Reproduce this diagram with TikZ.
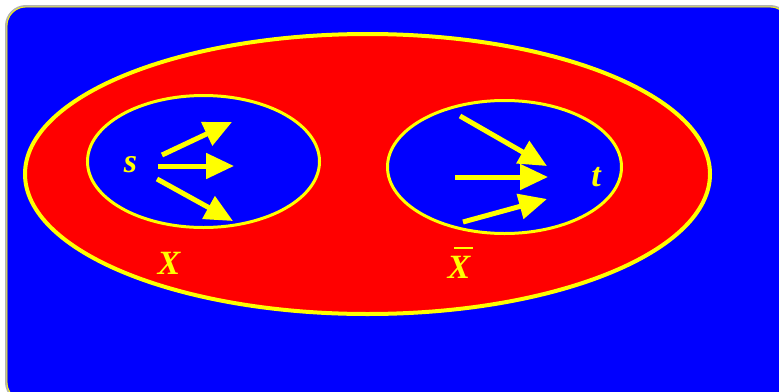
\documentclass[tikz,border=0pt]{standalone}
\usepackage{fontspec}
\setmainfont{Liberation Serif}
\usetikzlibrary{arrows.meta,shapes.geometric}
\definecolor{bgblue}{RGB}{0,0,255}
\definecolor{setred}{RGB}{255,0,0}
\definecolor{ylw}{RGB}{255,255,0}
\begin{document}
\begin{tikzpicture}[x=1pt,y=-1pt,
  setell/.style={ellipse,inner sep=0pt,draw=ylw},
  lbl/.style={inner sep=0pt,text=ylw,font=\fontsize{34}{34}\selectfont\bfseries\itshape},
  flow/.style={draw=ylw,line width=5pt,-{Triangle[length=28pt,width=25pt]}}]
\useasboundingbox (0,0) rectangle (779,391);
\begin{scope}
\clip (0,0) rectangle (779,391);
\draw[fill=bgblue,draw=gray!60,line width=2pt,rounded corners=20pt] (6,6) rectangle (790,402);
\draw[draw=ylw,line width=0.8pt,rounded corners=19pt] (7,7) rectangle (789,401);
\end{scope}
\node[setell,fill=setred,line width=4pt,minimum width=685pt,minimum height=280pt] (big) at (367.5,174) {};
\node[setell,fill=bgblue,line width=3pt,minimum width=232pt,minimum height=132pt] (left) at (203.5,161.5) {};
\node[setell,fill=bgblue,line width=3pt,minimum width=234pt,minimum height=133pt] (right) at (504.5,167) {};
\node[lbl] (s) at (130.5,164.5) {s};
\node[lbl] (t) at (596,177) {t};
\node[lbl] (X) at (169,263.5) {X};
\node[lbl] (Xb) at (459,267) {X};
\draw[ylw,line width=2pt] ([xshift=-5pt,yshift=8pt]Xb.north) -- ([xshift=14pt,yshift=8pt]Xb.north);
\coordinate (a1s) at (162,155); \coordinate (a1e) at (232,122);
\coordinate (a2s) at (158,166); \coordinate (a2e) at (234,166);
\coordinate (a3s) at (157,179); \coordinate (a3e) at (233,221);
\coordinate (b1s) at (460,116); \coordinate (b1e) at (547,166);
\coordinate (b2s) at (455,177); \coordinate (b2e) at (548,177);
\coordinate (b3s) at (463,222); \coordinate (b3e) at (547,199);
\foreach \p in {a1,a2,a3,b1,b2,b3}{\draw[flow] (\p s) -- (\p e);}
\end{tikzpicture}
\end{document}
